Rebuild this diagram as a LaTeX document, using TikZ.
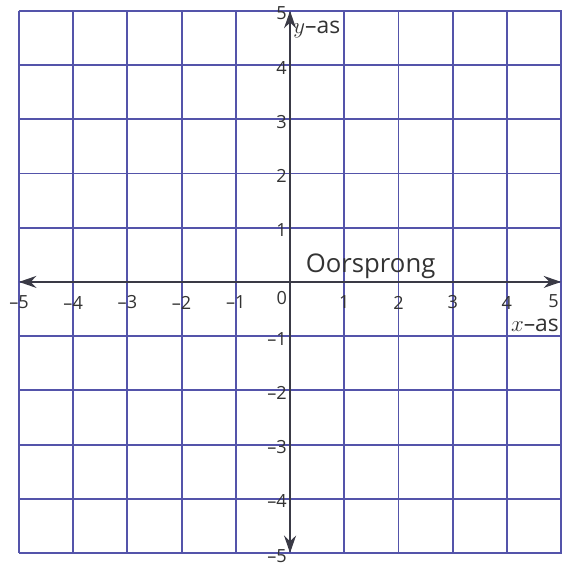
\documentclass[tikz,border=0pt]{standalone}
\usepackage{fontspec}
\setmainfont{Open Sans}
\usetikzlibrary{arrows.meta}
\definecolor{gridline}{HTML}{5454AA}
\definecolor{axisline}{HTML}{3A3A46}
\definecolor{labeltext}{HTML}{333333}

\begin{document}
\begin{tikzpicture}[
  font=\fontsize{9.5}{11}\selectfont,
  >={Stealth[length=3.2mm,width=2.2mm]},
  gridlines/.style={draw=gridline, line width=1pt},
  axis/.style={<->, draw=axisline, line width=1.2pt},
  ticklabel/.style={text=labeltext, inner sep=1pt},
  xtick/.style={ticklabel, anchor=center},
  ytick/.style={ticklabel, anchor=east},
  axislabel/.style={text=labeltext, inner sep=1pt, font=\fontsize{12}{14}\selectfont}
]
  \useasboundingbox (-5.35,-5.24) rectangle (5,5.2);
  \draw[gridlines] (-5,-5) grid (5.3,5);

  \coordinate (xmin) at (-5,0);
  \coordinate (xmax) at (5,0);
  \coordinate (ymin) at (0,-5);
  \coordinate (ymax) at (0,5);
  \draw[axis] (xmin) -- (xmax);
  \draw[axis] (ymin) -- (ymax);

  % getallen langs de assen
  \foreach \x/\t in {-5/–5,-4/–4,-3/–3,-2/–2,-1/–1,1/1,2/2,3/3,4/4}
    \node[xtick] (xl\x) at (\x,-0.38) {\t};
  \node[xtick, anchor=east] (xl5) at (5,-0.36) {5};
  \foreach \y/\t in {-5/–5,-4/–4,-3/–3,-2/–2,-1/–1,1/1,2/2,3/3,4/4,5/5}
    \node[ytick] (yl\y) at (-0.02,\y-0.05) {\t};
  \node[xtick] (nul) at (-0.15,-0.3) {0};

  \node[axislabel, anchor=north west] (yas) at (0.02,4.85) {$y$–as};
  \node[axislabel, anchor=north east] (xas) at (5,-0.64) {$x$–as};
  \node[axislabel, anchor=south west, font=\fontsize{13.5}{15}\selectfont] (oorsprong) at (0.25,0.02) {Oorsprong};
\end{tikzpicture}
\end{document}
